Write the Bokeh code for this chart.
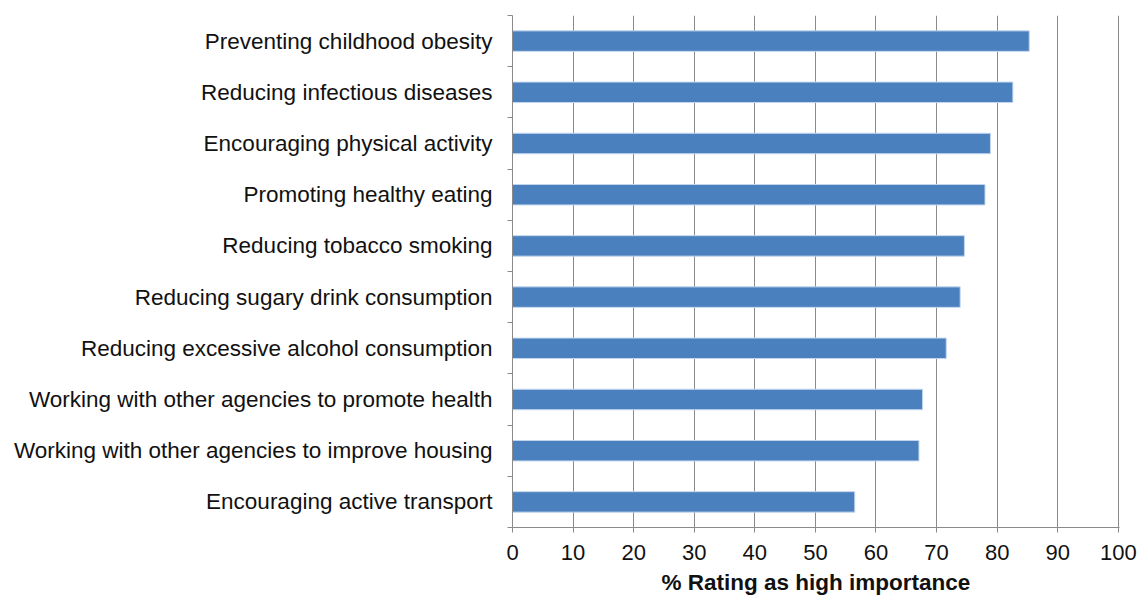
from bokeh.plotting import figure
from bokeh.models import Range1d, FixedTicker, LinearAxis
from bokeh.embed import file_html
from bokeh.resources import INLINE

# Survey items, listed top to bottom
categories = [
    "Preventing childhood obesity",
    "Reducing infectious diseases",
    "Encouraging physical activity",
    "Promoting healthy eating",
    "Reducing tobacco smoking",
    "Reducing sugary drink consumption",
    "Reducing excessive alcohol consumption",
    "Working with other agencies to promote health",
    "Working with other agencies to improve housing",
    "Encouraging active transport",
]
pct_high = [85.3, 82.6, 78.9, 78.0, 74.6, 73.9, 71.6, 67.7, 67.1, 56.5]
x_ticks = [0, 10, 20, 30, 40, 50, 60, 70, 80, 90, 100]

n = len(categories)
# first item sits at the top of the chart
ypos = [n - i for i in range(n)]

p = figure(
    width=1137, height=598,
    output_backend="svg", toolbar_location=None,
    # a hair past 100 so the last gridline is not clipped at the frame edge
    x_range=Range1d(0, 100.2), y_range=Range1d(0.5, n + 0.5),
    x_axis_location=None, y_axis_location=None,
    min_border_left=512, min_border_right=18,
    min_border_top=15, min_border_bottom=71,
)
p.outline_line_color = None
p.background_fill_color = "white"
p.border_fill_color = "white"

p.hbar(y=ypos, right=pct_high, left=0, height=0.4,
       fill_color="#4a80be", line_color="#c5d7ee", line_width=1)

grey = "#8a8a8a"
font = "Liberation Sans"

# x axis
xax = LinearAxis(ticker=FixedTicker(ticks=x_ticks, minor_ticks=[]))
xax.axis_label = "% Rating as high importance"
xax.axis_label_text_font = font
xax.axis_label_text_font_style = "bold"
xax.axis_label_text_font_size = "22.5px"
xax.axis_label_text_color = "#111111"
xax.axis_label_standoff = 7
xax.major_label_text_font = font
xax.major_label_text_font_size = "22px"
xax.major_label_text_color = "#111111"
xax.major_label_standoff = 12
xax.axis_line_color = grey
xax.major_tick_line_color = grey
xax.major_tick_out = 5
xax.major_tick_in = 0
xax.minor_tick_line_color = None
p.add_layout(xax, "below")

# y axis: labels at category centres, ticks on category boundaries
bounds = [k + 0.5 for k in range(n + 1)]
yax = LinearAxis(ticker=FixedTicker(ticks=ypos, minor_ticks=bounds))
yax.major_label_overrides = {y: c for y, c in zip(ypos, categories)}
yax.major_label_text_font = font
yax.major_label_text_font_size = "22.5px"
yax.major_label_text_color = "#111111"
yax.major_label_standoff = 15
yax.major_tick_line_color = None
yax.major_tick_out = 0
yax.major_tick_in = 0
yax.minor_tick_line_color = grey
yax.minor_tick_out = 5
yax.minor_tick_in = 0
yax.axis_line_color = grey
p.add_layout(yax, "left")

p.xgrid.ticker = FixedTicker(ticks=x_ticks)
p.xgrid.grid_line_color = grey
p.xgrid.grid_line_width = 1
p.ygrid.grid_line_color = None

open("out.html", "w").write(file_html(p, INLINE))
